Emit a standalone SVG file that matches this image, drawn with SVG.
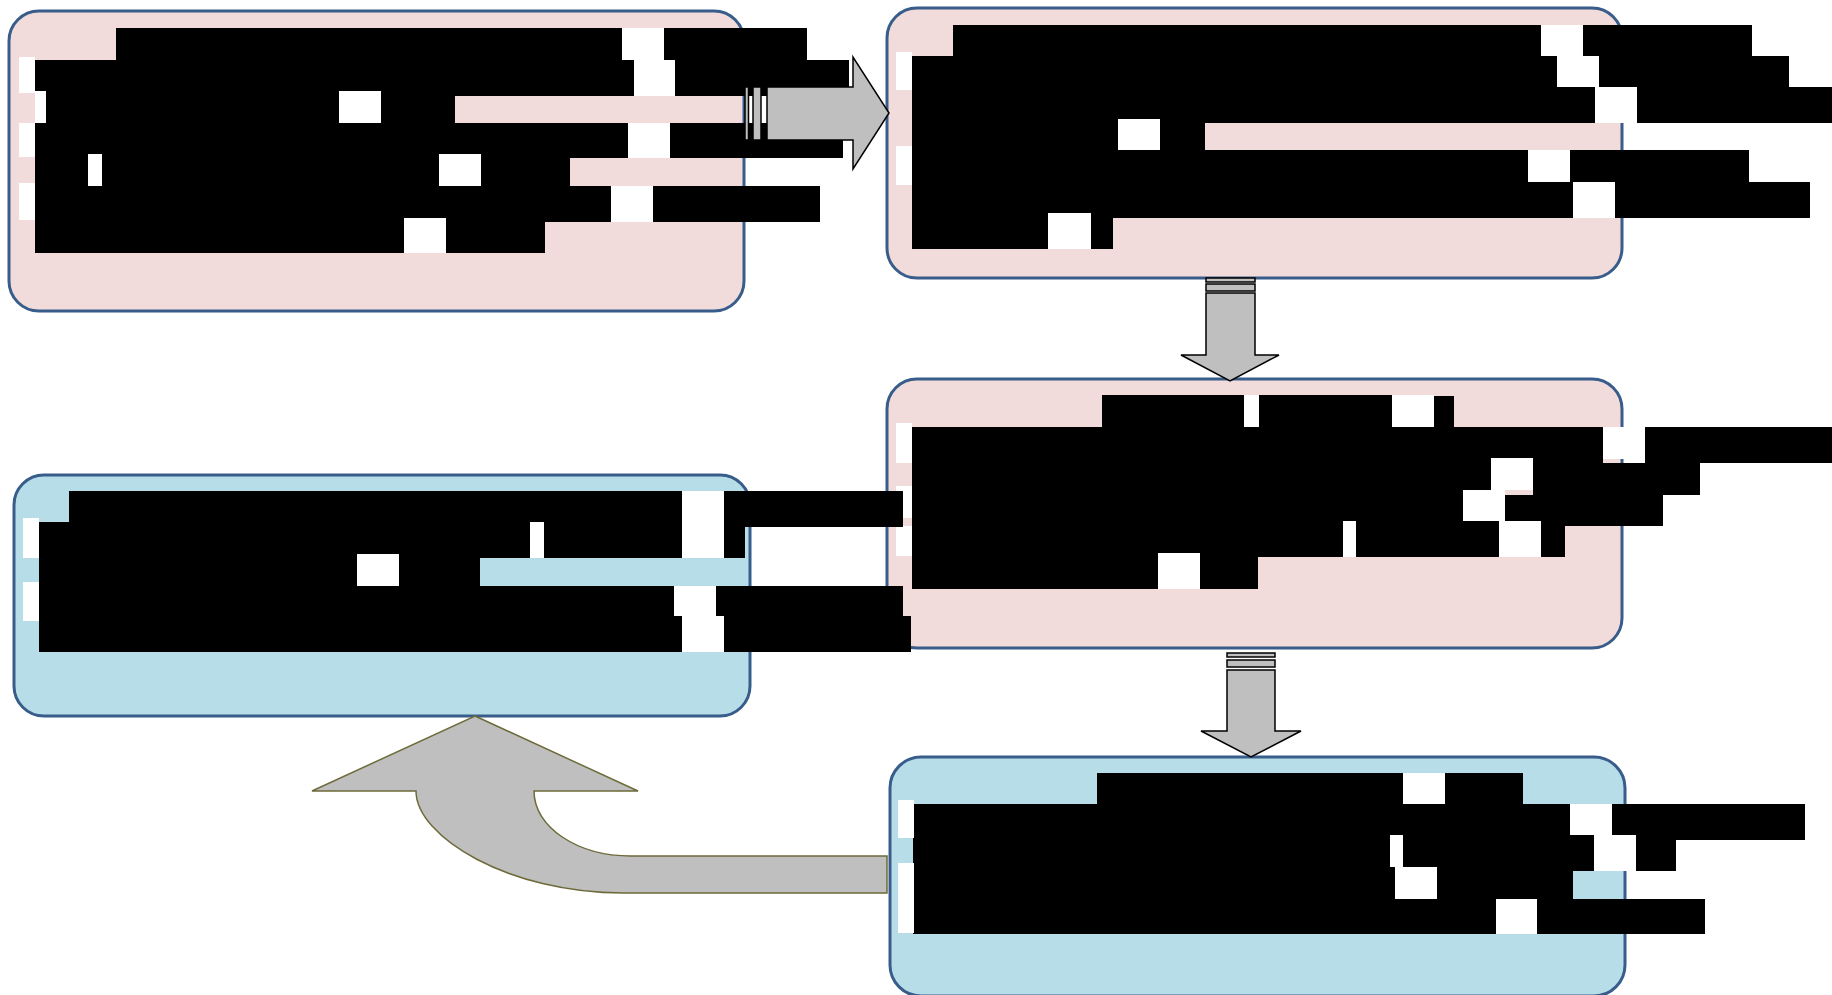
<svg xmlns="http://www.w3.org/2000/svg" width="1832" height="995" viewBox="0 0 1832 995">
<style>
.pink{fill:#F2DCDB;stroke:#385D8A;stroke-width:3}
.blue{fill:#B7DEE8;stroke:#385D8A;stroke-width:3}
.k{fill:#000}
.w{fill:#fff}
.arr{fill:#BFBFBF;stroke:#000;stroke-width:1.5}
.curv{fill:#BFBFBF;stroke:#6E6B3A;stroke-width:1.5}
</style>
<rect width="1832" height="995" fill="#fff"/>
<g id="node1">
<rect class="pink" x="9" y="11" width="735" height="300" rx="30" ry="30"/>
<rect class="k" x="116" y="28" width="506" height="32"/><rect class="w" x="622" y="28" width="42" height="68"/><rect class="k" x="664" y="28" width="143" height="32"/>
<rect class="k" x="35" y="60" width="599" height="36"/><rect class="w" x="634" y="60" width="41" height="36"/><rect class="k" x="675" y="60" width="174" height="36"/>
<rect class="k" x="35" y="96" width="304" height="27"/><rect class="w" x="339" y="91" width="42" height="32"/><rect class="k" x="381" y="96" width="74" height="27"/>
<rect class="k" x="35" y="123" width="593" height="35"/><rect class="w" x="628" y="123" width="42" height="35"/><rect class="k" x="670" y="123" width="173" height="35"/>
<rect class="k" x="35" y="154" width="53" height="32"/><rect class="w" x="88" y="154" width="14" height="32"/><rect class="k" x="102" y="154" width="337" height="32"/><rect class="w" x="439" y="154" width="42" height="32"/><rect class="k" x="481" y="154" width="89" height="32"/>
<rect class="k" x="35" y="186" width="576" height="36"/><rect class="w" x="611" y="186" width="42" height="36"/><rect class="k" x="653" y="186" width="167" height="36"/>
<rect class="k" x="35" y="218" width="369" height="35"/><rect class="w" x="404" y="218" width="42" height="35"/><rect class="k" x="446" y="218" width="99" height="35"/>
<rect class="w" x="19" y="57" width="16" height="36"/><rect class="w" x="35" y="91" width="11" height="32"/><rect class="w" x="19" y="123" width="16" height="34"/><rect class="w" x="19" y="183" width="16" height="37"/>
</g>
<g id="node2">
<rect class="pink" x="887" y="8" width="735" height="270" rx="30" ry="30"/>
<rect class="k" x="953" y="25" width="588" height="31"/><rect class="w" x="1541" y="25" width="42" height="31"/><rect class="k" x="1583" y="25" width="169" height="31"/>
<rect class="k" x="912" y="56" width="645" height="31"/><rect class="w" x="1557" y="56" width="42" height="31"/><rect class="k" x="1599" y="56" width="190" height="31"/>
<rect class="k" x="912" y="87" width="683" height="36"/><rect class="w" x="1595" y="87" width="42" height="36"/><rect class="k" x="1637" y="87" width="195" height="36"/>
<rect class="k" x="912" y="119" width="206" height="31"/><rect class="w" x="1118" y="119" width="42" height="31"/><rect class="k" x="1160" y="119" width="45" height="31"/>
<rect class="k" x="912" y="150" width="616" height="32"/><rect class="w" x="1528" y="150" width="42" height="32"/><rect class="k" x="1570" y="150" width="179" height="32"/>
<rect class="k" x="912" y="182" width="661" height="36"/><rect class="w" x="1573" y="182" width="42" height="36"/><rect class="k" x="1615" y="182" width="195" height="36"/>
<rect class="k" x="912" y="213" width="136" height="36"/><rect class="w" x="1048" y="213" width="43" height="36"/><rect class="k" x="1091" y="218" width="22" height="31"/>
<rect class="w" x="896" y="52" width="16" height="38"/><rect class="w" x="896" y="146" width="16" height="39"/>
</g>
<g id="node3">
<rect class="pink" x="887" y="379" width="735" height="269" rx="30" ry="30"/>
<rect class="k" x="1102" y="395" width="142" height="32"/><rect class="w" x="1244" y="395" width="15" height="32"/><rect class="k" x="1259" y="395" width="133" height="32"/><rect class="w" x="1392" y="395" width="42" height="32"/><rect class="k" x="1434" y="396" width="20" height="31"/>
<rect class="k" x="912" y="427" width="691" height="36"/><rect class="w" x="1603" y="427" width="42" height="32"/><rect class="k" x="1645" y="427" width="187" height="36"/>
<rect class="k" x="912" y="458" width="579" height="37"/><rect class="w" x="1491" y="458" width="42" height="32"/><rect class="k" x="1533" y="463" width="167" height="32"/>
<rect class="k" x="912" y="490" width="551" height="36"/><rect class="w" x="1463" y="490" width="42" height="36"/><rect class="k" x="1505" y="495" width="158" height="31"/>
<rect class="k" x="912" y="521" width="431" height="36"/><rect class="w" x="1343" y="521" width="13" height="36"/><rect class="k" x="1356" y="521" width="143" height="36"/><rect class="w" x="1499" y="521" width="42" height="36"/><rect class="k" x="1541" y="526" width="24" height="31"/>
<rect class="k" x="912" y="553" width="246" height="36"/><rect class="w" x="1158" y="553" width="42" height="36"/><rect class="k" x="1200" y="557" width="58" height="32"/>
<rect class="w" x="896" y="423" width="16" height="40"/><rect class="w" x="896" y="486" width="16" height="32"/><rect class="w" x="896" y="526" width="16" height="30"/>
</g>
<g id="node4">
<rect class="blue" x="890" y="757" width="735" height="239" rx="31" ry="31"/>
<rect class="k" x="1097" y="773" width="306" height="31"/><rect class="w" x="1403" y="773" width="42" height="31"/><rect class="k" x="1445" y="773" width="78" height="31"/>
<rect class="k" x="913" y="804" width="657" height="36"/><rect class="w" x="1570" y="804" width="42" height="36"/><rect class="k" x="1612" y="804" width="193" height="36"/>
<rect class="k" x="913" y="835" width="477" height="36"/><rect class="w" x="1390" y="835" width="13" height="36"/><rect class="k" x="1403" y="835" width="191" height="36"/><rect class="w" x="1594" y="835" width="42" height="36"/><rect class="k" x="1636" y="840" width="40" height="31"/>
<rect class="k" x="913" y="867" width="482" height="32"/><rect class="w" x="1395" y="867" width="42" height="32"/><rect class="k" x="1437" y="867" width="136" height="32"/>
<rect class="k" x="913" y="899" width="583" height="35"/><rect class="w" x="1496" y="899" width="41" height="35"/><rect class="k" x="1537" y="899" width="168" height="35"/>
<rect class="w" x="898" y="800" width="16" height="38"/><rect class="w" x="898" y="863" width="16" height="32"/><rect class="w" x="898" y="895" width="16" height="38"/>
</g>
<g id="node5">
<rect class="blue" x="14" y="475" width="736" height="241" rx="30" ry="30"/>
<rect class="k" x="69" y="491" width="613" height="36"/><rect class="w" x="682" y="491" width="42" height="67"/><rect class="k" x="724" y="491" width="179" height="36"/>
<rect class="k" x="39" y="522" width="491" height="36"/><rect class="w" x="530" y="522" width="14" height="36"/><rect class="k" x="544" y="522" width="138" height="36"/><rect class="k" x="724" y="527" width="21" height="31"/>
<rect class="k" x="39" y="554" width="318" height="32"/><rect class="w" x="357" y="554" width="42" height="32"/><rect class="k" x="399" y="554" width="81" height="32"/>
<rect class="k" x="39" y="586" width="635" height="30"/><rect class="w" x="674" y="586" width="42" height="30"/><rect class="k" x="716" y="586" width="187" height="30"/>
<rect class="k" x="39" y="616" width="643" height="36"/><rect class="w" x="682" y="616" width="42" height="36"/><rect class="k" x="724" y="616" width="187" height="36"/>
<rect class="w" x="23" y="518" width="16" height="40"/><rect class="w" x="23" y="582" width="16" height="39"/>
</g>
<g id="connectors">
<rect class="arr" x="745" y="87" width="3.5" height="53"/>
<rect class="arr" x="753" y="87" width="8" height="53"/>
<polygon class="arr" points="767,87 853,87 853,57 889,113 853,169 853,140 767,140"/>
<rect class="arr" x="1206" y="278" width="49" height="4"/>
<rect class="arr" x="1206" y="284" width="49" height="7"/>
<polygon class="arr" points="1206,293 1255,293 1255,355 1279,355 1230,381 1181,355 1206,355"/>
<rect class="arr" x="1227" y="653" width="48" height="4"/>
<rect class="arr" x="1227" y="660" width="48" height="7"/>
<polygon class="arr" points="1227,670 1275,670 1275,731 1301,731 1251,757 1201,731 1227,731"/>
<path class="curv" d="M475 716 L638 791 L534 791 C534 827 577 856 631 856 L887 856 L887 893 L623 893 C509 893 416 837 416 791 L312 791 Z"/>
</g>
</svg>
